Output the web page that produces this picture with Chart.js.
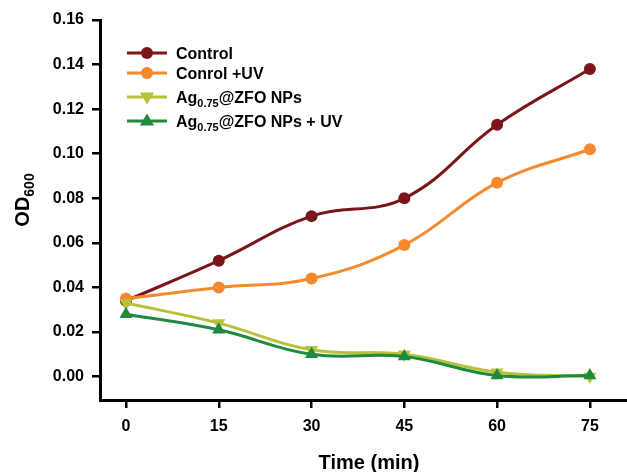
<!DOCTYPE html>
<html>
<head>
<meta charset="utf-8">
<script src="https://cdn.jsdelivr.net/npm/chart.js@4/dist/chart.umd.min.js"></script>
<style>
  html, body { margin: 0; padding: 0; background: #fff; }
  #wrap { width: 627px; height: 472px; position: relative; }
</style>
</head>
<body>
<div id="wrap"><canvas id="odChart"></canvas></div>
<script>
const times = [0, 15, 30, 45, 60, 75];
const control = [0.034, 0.052, 0.072, 0.080, 0.113, 0.138];
const controlUV = [0.035, 0.040, 0.044, 0.059, 0.087, 0.102];
const agNP = [0.033, 0.024, 0.012, 0.010, 0.002, 0.000];
const agNPUV = [0.028, 0.021, 0.010, 0.009, 0.0005, 0.0005];

const xTicks = [0, 15, 30, 45, 60, 75];
const yTicks = [0, 0.02, 0.04, 0.06, 0.08, 0.10, 0.12, 0.14, 0.16];

const seriesLabels = ['Control', 'Conrol +UV', 'Ag0.75@ZFO NPs', 'Ag0.75@ZFO NPs + UV'];
// legend text split in parts so the subscript can be drawn smaller
const legendParts = [
    [['Control', false]],
    [['Conrol +UV', false]],
    [['Ag', false], ['0.75', true], ['@ZFO NPs', false]],
    [['Ag', false], ['0.75', true], ['@ZFO NPs + UV', false]],
];
const colors = ['#7a1519', '#f5892d', '#b6c33a', '#1f8a3e'];

const FONT = '"Liberation Sans", Arial, Helvetica, sans-serif';

function toPoints(ys) {
    return times.map((t, i) => ({ x: t, y: ys[i] }));
}

function makeSet(i, ys, style, rotation) {
    return {
        label: seriesLabels[i],
        data: toPoints(ys),
        borderColor: colors[i],
        backgroundColor: colors[i],
        borderWidth: 3,
        pointStyle: style,
        pointRotation: rotation,
        pointRadius: style === 'circle' ? 6 : 7.5,
        pointBorderWidth: 0,
        pointBackgroundColor: colors[i],
        tension: 0.4,
        order: 4 - i,
    };
}

function drawMarker(ctx, style, x, y, color) {
    ctx.fillStyle = color;
    ctx.beginPath();
    if (style === 'circle') {
        ctx.arc(x, y, 6, 0, Math.PI * 2);
    } else {
        const r = 7.5;
        const dir = style === 'down' ? 1 : -1;
        ctx.moveTo(x, y + dir * r);
        ctx.lineTo(x - r * 0.95, y - dir * r * 0.6);
        ctx.lineTo(x + r * 0.95, y - dir * r * 0.6);
        ctx.closePath();
    }
    ctx.fill();
}

const titlesAndLegend = {
    id: 'titlesAndLegend',
    afterDraw(chart) {
        const ctx = chart.ctx;
        ctx.save();
        ctx.fillStyle = '#000';
        ctx.textBaseline = 'alphabetic';

        // x axis title
        ctx.font = 'bold 20px ' + FONT;
        ctx.textAlign = 'center';
        ctx.fillText('Time (min)', 369, 469);

        // y axis title with subscript
        ctx.save();
        ctx.translate(29, 200);
        ctx.rotate(-Math.PI / 2);
        ctx.textAlign = 'left';
        ctx.font = 'bold 20px ' + FONT;
        const wOD = ctx.measureText('OD').width;
        ctx.font = 'bold 14px ' + FONT;
        const wSub = ctx.measureText('600').width;
        const x0 = -(wOD + wSub) / 2;
        ctx.font = 'bold 20px ' + FONT;
        ctx.fillText('OD', x0, 0);
        ctx.font = 'bold 14px ' + FONT;
        ctx.fillText('600', x0 + wOD, 5);
        ctx.restore();

        // legend
        const rows = [53, 73, 97, 121];
        const styles = ['circle', 'circle', 'down', 'up'];
        ctx.textAlign = 'left';
        rows.forEach((ry, i) => {
            ctx.strokeStyle = colors[i];
            ctx.lineWidth = 3;
            ctx.beginPath();
            ctx.moveTo(127, ry);
            ctx.lineTo(167, ry);
            ctx.stroke();
            drawMarker(ctx, styles[i], 147, ry, colors[i]);

            ctx.fillStyle = '#000';
            let tx = 176;
            legendParts[i].forEach(([txt, sub]) => {
                ctx.font = (sub ? 'bold 11px ' : 'bold 16px ') + FONT;
                ctx.fillText(txt, tx, ry + 6 + (sub ? 4 : 0));
                tx += ctx.measureText(txt).width;
            });
        });
        ctx.restore();
    },
};

new Chart(document.getElementById('odChart'), {
    type: 'line',
    data: {
        datasets: [
            makeSet(0, control, 'circle', 0),
            makeSet(1, controlUV, 'circle', 0),
            makeSet(2, agNP, 'triangle', 180),
            makeSet(3, agNPUV, 'triangle', 0),
        ],
    },
    options: {
        responsive: true,
        maintainAspectRatio: false,
        animation: false,
        layout: { autoPadding: false, padding: { top: 20, right: 0, left: 0, bottom: 0 } },
        plugins: {
            legend: { display: false },
            tooltip: { enabled: false },
        },
        scales: {
            x: {
                type: 'linear',
                min: -4.2,
                max: 81,
                afterBuildTicks: (axis) => { axis.ticks = xTicks.map(v => ({ value: v })); },
                afterFit: (axis) => { axis.height = 72; },
                grid: { drawOnChartArea: false, drawTicks: true, tickLength: 8, color: '#000', lineWidth: 2.5 },
                border: { display: true, color: '#000', width: 3 },
                ticks: {
                    color: '#000',
                    padding: 9,
                    font: { family: FONT, size: 16, weight: 'bold' },
                    callback: (v) => String(v),
                },
            },
            y: {
                min: -0.0105,
                max: 0.16,
                afterBuildTicks: (axis) => { axis.ticks = yTicks.map(v => ({ value: v })); },
                afterFit: (axis) => { axis.width = 100; },
                grid: { drawOnChartArea: false, drawTicks: true, tickLength: 8, color: '#000', lineWidth: 2.5 },
                border: { display: true, color: '#000', width: 3 },
                ticks: {
                    color: '#000',
                    padding: 8,
                    font: { family: FONT, size: 16, weight: 'bold' },
                    callback: (v) => Number(v).toFixed(2),
                },
            },
        },
    },
    plugins: [titlesAndLegend],
});
</script>
</body>
</html>
